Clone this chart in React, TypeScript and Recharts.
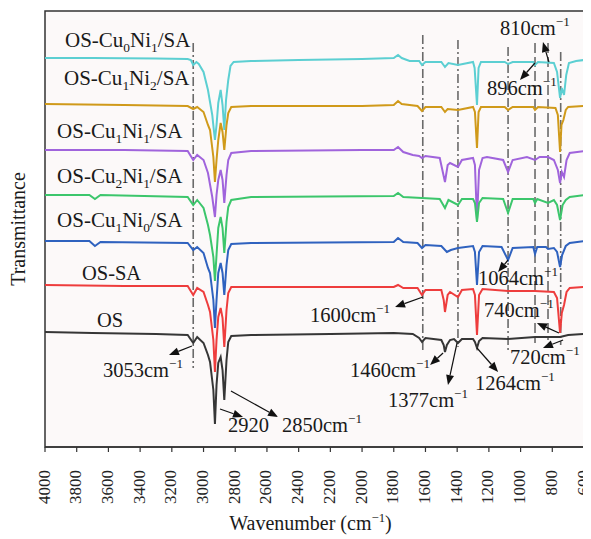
import React from "react";
import {
  LineChart,
  Line,
  XAxis,
  YAxis,
  ReferenceArea,
  ReferenceLine,
  ReferenceDot,
  Label,
} from "recharts";

// wavenumber (cm-1) vs transmittance (a.u., spectra stacked)
const wavenumberTicks = [4000, 3800, 3600, 3400, 3200, 3000, 2800, 2600, 2400, 2200, 2000, 1800, 1600, 1400, 1200, 1000, 800, 600];

const osCu0Ni1: [number, number][] = [
  [4000, 97.25], [3700, 97.25], [3300, 97.1], [3100, 97], [3080, 96.75], [3065, 95.5], [3045, 96.25], [3030, 95.75],
  [3000, 93.75], [2972, 89.25], [2945, 83], [2935, 79.25], [2928, 76.75], [2918, 80.5], [2907, 86], [2892, 89.25],
  [2880, 85.5], [2869, 79.25], [2858, 86.75], [2844, 91.75], [2830, 95.25], [2810, 96.25], [2700, 96.5], [2400, 96.75],
  [2000, 97], [1800, 97.25], [1773, 98], [1750, 97.25], [1700, 96.5], [1640, 96.5], [1622, 95.5], [1600, 96.25],
  [1500, 96.25], [1477, 95], [1455, 96], [1395, 95.5], [1300, 96.25], [1290, 94.75], [1275, 85.5], [1265, 94.75],
  [1250, 96.25], [1100, 96.25], [1079, 95.75], [1050, 96.25], [920, 96.25], [909, 95.5], [890, 96.25], [790, 96],
  [770, 93.75], [751, 87.25], [740, 89.75], [726, 88], [712, 93], [695, 96], [650, 96.5], [600, 96.75],
];

const osCu1Ni2: [number, number][] = [
  [4000, 85.75], [3500, 85.5], [3100, 85.25], [3065, 84.5], [3040, 85], [3000, 83.75], [2972, 80.5], [2959, 79.25],
  [2938, 72.5], [2928, 66.25], [2918, 71.75], [2907, 76.75], [2892, 81], [2880, 78.75], [2869, 74.25], [2855, 80.5],
  [2844, 83.5], [2825, 85], [2700, 85.25], [2000, 85.25], [1800, 85.5], [1773, 86.5], [1750, 85.75], [1650, 85.25],
  [1622, 84], [1600, 85], [1500, 85], [1477, 83.75], [1460, 84.5], [1395, 84.25], [1300, 85], [1288, 83.75],
  [1275, 74.75], [1265, 83.75], [1250, 85], [1100, 85], [1079, 84.25], [1050, 85], [920, 85], [909, 84.25],
  [890, 85], [780, 84.75], [765, 83], [751, 73.75], [742, 80.5], [730, 81.75], [715, 84.25], [700, 85], [600, 85.25],
];

const osCu1Ni1: [number, number][] = [
  [4000, 74.25], [3500, 74.25], [3100, 74], [3065, 71.75], [3040, 73], [3000, 71.75], [2972, 68.5], [2945, 62.5],
  [2928, 57.5], [2918, 63], [2907, 66.75], [2892, 69.25], [2880, 66.75], [2869, 61], [2855, 68], [2844, 71.75],
  [2825, 73.5], [2700, 74], [2000, 74.25], [1800, 74.25], [1773, 75], [1740, 73.75], [1680, 73], [1640, 72.75],
  [1622, 72.25], [1600, 72.75], [1510, 72.25], [1477, 66.25], [1460, 70.5], [1445, 71], [1395, 70], [1370, 71.75],
  [1300, 72.25], [1288, 70.5], [1275, 56.75], [1262, 69.25], [1240, 72.25], [1212, 72.5], [1110, 71.75], [1079, 68.75],
  [1050, 71.75], [960, 72.5], [909, 71.75], [880, 72.5], [827, 72.5], [790, 71.75], [765, 69.25], [751, 66],
  [740, 68.75], [726, 67.5], [710, 71.75], [690, 73.5], [600, 74],
];

const osCu2Ni1: [number, number][] = [
  [4000, 63], [3720, 63], [3685, 62], [3650, 63], [3100, 62.5], [3065, 60.5], [3040, 61.75], [3000, 59.75],
  [2972, 55.5], [2959, 53], [2938, 47.5], [2928, 41.5], [2918, 48], [2907, 54.75], [2892, 57.5], [2880, 54.75],
  [2869, 48.5], [2855, 56.25], [2844, 60], [2825, 61.75], [2700, 62.5], [1800, 62.75], [1773, 63.5], [1740, 62.5],
  [1622, 62.25], [1510, 62], [1477, 59.75], [1455, 61.75], [1395, 60.5], [1370, 62], [1300, 62], [1288, 61],
  [1275, 56.25], [1262, 61], [1240, 62.25], [1110, 62], [1079, 58.5], [1050, 62], [920, 62], [909, 61],
  [895, 62], [827, 61], [790, 61.75], [770, 60.5], [751, 56.75], [735, 60.5], [715, 61.75], [690, 62.5], [600, 63],
];

const osCu1Ni0: [number, number][] = [
  [4000, 51.5], [3720, 51.5], [3685, 50.25], [3650, 51.25], [3100, 51], [3065, 49.25], [3040, 50], [3000, 48.5],
  [2972, 44.75], [2959, 43.5], [2938, 36.75], [2928, 29.75], [2918, 36.75], [2907, 43.5], [2892, 46], [2880, 43.5],
  [2869, 38], [2855, 45.5], [2844, 49.25], [2825, 50.75], [2700, 51], [1800, 51.25], [1773, 52.25], [1740, 51.25],
  [1650, 51], [1622, 49.75], [1600, 50.5], [1500, 50.25], [1465, 48.75], [1440, 49.25], [1395, 49.75], [1300, 50.25],
  [1288, 48.75], [1275, 40.5], [1262, 48.75], [1240, 50.25], [1120, 50], [1079, 46.75], [1050, 49.75], [920, 50],
  [909, 48.25], [895, 50], [840, 50], [827, 49.5], [790, 49.75], [770, 48.75], [751, 45], [738, 48], [715, 50.25],
  [690, 51], [600, 51.5],
];

const osSA: [number, number][] = [
  [4000, 40.5], [3500, 40.25], [3100, 40.25], [3065, 38], [3040, 39.75], [3000, 38.75], [2972, 35.5], [2959, 33.75],
  [2938, 26.75], [2928, 18.75], [2918, 26.75], [2907, 32.5], [2892, 34.75], [2880, 32.25], [2869, 25], [2855, 34.25],
  [2844, 38.5], [2825, 40], [2700, 40], [1800, 40], [1773, 40.5], [1740, 39.75], [1650, 39.75], [1622, 38],
  [1600, 39.25], [1500, 39.25], [1485, 36.75], [1477, 33.75], [1460, 38], [1445, 38.75], [1395, 37.5], [1370, 39.25],
  [1300, 39.5], [1288, 38], [1275, 28], [1262, 38], [1240, 39.5], [1079, 39], [909, 39], [790, 38.75], [770, 37.25],
  [751, 28.5], [740, 33.5], [726, 35.5], [710, 38.75], [690, 39.75], [600, 40],
];

const osPure: [number, number][] = [
  [4000, 28.75], [3700, 28.5], [3300, 28.25], [3100, 28], [3065, 26], [3040, 27.5], [3000, 26], [2972, 23],
  [2959, 21.25], [2938, 14.25], [2928, 5.75], [2918, 15.5], [2907, 21], [2892, 22.5], [2880, 19.25], [2869, 11.75],
  [2855, 21.75], [2844, 26.25], [2825, 27.75], [2700, 28], [2200, 28.25], [1800, 28.5], [1680, 28.25], [1640, 27.25],
  [1622, 26.25], [1600, 27.25], [1500, 26.75], [1485, 25.5], [1477, 23.75], [1465, 25.5], [1445, 26.75], [1420, 27],
  [1395, 26], [1370, 27], [1300, 27], [1288, 26.25], [1275, 24.75], [1262, 26.5], [1240, 27.25], [1079, 27],
  [909, 27.5], [751, 27.5], [700, 28], [600, 28.25],
];

const seriesNames = ["OS-Cu0Ni1/SA", "OS-Cu1Ni2/SA", "OS-Cu1Ni1/SA", "OS-Cu2Ni1/SA", "OS-Cu1Ni0/SA", "OS-SA", "OS"];
const seriesData = [osCu0Ni1, osCu1Ni2, osCu1Ni1, osCu2Ni1, osCu1Ni0, osSA, osPure];
const seriesColors = ["#5ccfd2", "#d09a1a", "#a064dc", "#3cc66c", "#2f62bf", "#ee3d3d", "#363636"];

// marker lines [wavenumber, top, bottom]
const dashDotLines: [number, number, number][] = [
  [3065, 101, 19.75], [1617, 103, 23.5], [1395, 101.75, 25], [1079, 100, 23.5], [747, 98.75, 25.5],
];
const dashedLines: [number, number, number][] = [[909, 101, 26], [827, 101, 26.75]];

// arrows [from w, from v, to w, to v]
const arrows: [number, number, number, number][] = [
  [3073, 25.25, 3218, 23], [2896, 9.5, 2751, 7.5], [2827, 14, 2530, 7.5], [1616, 37.5, 1792, 35],
  [1489, 23.5, 1571, 20.5], [1401, 26, 1458, 15.5], [1275, 24.75, 1142, 18.75], [1079, 46.75, 1142, 43.75],
  [758, 28.5, 897, 31], [732, 26.75, 859, 24.75], [821, 96.25, 859, 101.25], [909, 96, 1004, 91.75],
];

type Part = [string, "" | "sub" | "sup"];
const sample = (cu: string, ni: string): Part[] => [["OS-Cu", ""], [cu, "sub"], ["Ni", ""], [ni, "sub"], ["/SA", ""]];
const cm = (n: string): Part[] => [[n + "cm", ""], ["\u22121", "sup"]];

const textLabels: { w: number; v: number; parts: Part[] }[] = [
  { w: 3874, v: 100, parts: sample("0", "1") },
  { w: 3880, v: 90.5, parts: sample("1", "2") },
  { w: 3924, v: 77.25, parts: sample("1", "1") },
  { w: 3924, v: 66, parts: sample("2", "1") },
  { w: 3924, v: 55, parts: sample("1", "0") },
  { w: 3767, v: 41.75, parts: [["OS-SA", ""]] },
  { w: 3672, v: 30, parts: [["OS", ""]] },
  { w: 3634, v: 17.5, parts: cm("3053") },
  { w: 2846, v: 3.75, parts: [["2920", ""]] },
  { w: 2505, v: 3.75, parts: cm("2850") },
  { w: 2328, v: 31.25, parts: cm("1600") },
  { w: 2076, v: 17.5, parts: cm("1460") },
  { w: 1836, v: 10, parts: cm("1377") },
  { w: 1288, v: 14.25, parts: cm("1264") },
  { w: 1269, v: 40.5, parts: cm("1064") },
  { w: 1231, v: 32.5, parts: cm("740") },
  { w: 1067, v: 20.75, parts: cm("720") },
  { w: 1130, v: 103, parts: cm("810") },
  { w: 1212, v: 88, parts: cm("896") },
];

const SERIF = "Liberation Serif, DejaVu Serif, serif";

function RichText({ x, y, parts, size, anchor = "start" }: { x: number; y: number; parts: Part[]; size: number; anchor?: string }) {
  let shift = 0;
  return (
    <text x={x} y={y} textAnchor={anchor} style={{ fontFamily: SERIF, fontSize: size }} fill="#1a1a1a">
      {parts.map(([t, k], i) => {
        const target = k === "sub" ? size * 0.22 : k === "sup" ? -size * 0.42 : 0;
        const dy = target - shift;
        shift = target;
        return (
          <tspan key={i} dy={dy} style={{ fontSize: k ? size * 0.64 : size }}>
            {t}
          </tspan>
        );
      })}
    </text>
  );
}

function Arrow(p: any) {
  const { x1, y1, x2, y2 } = p;
  const ang = Math.atan2(y2 - y1, x2 - x1);
  const len = 10;
  const half = 4;
  const bx = x2 - len * Math.cos(ang);
  const by = y2 - len * Math.sin(ang);
  const px = -Math.sin(ang) * half;
  const py = Math.cos(ang) * half;
  return (
    <g>
      <line x1={x1} y1={y1} x2={bx} y2={by} stroke="#111" strokeWidth={1.2} />
      <polygon points={`${x2},${y2} ${bx + px},${by + py} ${bx - px},${by - py}`} fill="#111" />
    </g>
  );
}

function WaveTick(p: any) {
  const { x, y, payload } = p;
  const tx = x + 4.5;
  const ty = y + 16;
  return (
    <text x={tx} y={ty} transform={`rotate(-90, ${tx}, ${ty})`} textAnchor="end" style={{ fontFamily: SERIF, fontSize: 17 }} fill="#222">
      {payload.value}
    </text>
  );
}

export default function App() {
  return (
    <div style={{ width: 583, height: 531 }}>
      <LineChart width={583} height={531} margin={{ top: 3, right: 7, left: 0, bottom: 32 }}>
        <XAxis
          dataKey="w"
          type="number"
          domain={[600, 4000]}
          reversed
          ticks={wavenumberTicks}
          interval={0}
          height={60}
          tick={<WaveTick />}
          tickSize={5}
          tickLine={{ stroke: "#333", strokeWidth: 1.2 }}
          axisLine={{ stroke: "#333", strokeWidth: 1.5 }}
          allowDataOverflow
        >
          <Label
            content={(props: any) => {
              const vb = props.viewBox;
              return (
                <RichText
                  x={vb.x + vb.width / 2 - 4}
                  y={vb.y + 83}
                  size={20}
                  anchor="middle"
                  parts={[["Wavenumber (cm", ""], ["\u22121", "sup"], [")", ""]]}
                />
              );
            }}
          />
        </XAxis>
        <YAxis type="number" domain={[0, 109]} width={37} tick={false} tickLine={false} axisLine={false} allowDataOverflow>
          <Label
            content={(props: any) => {
              const vb = props.viewBox;
              const cx = 17;
              const cy = vb.y + vb.height / 2;
              return (
                <text x={cx} y={cy} transform={`rotate(-90, ${cx}, ${cy})`} textAnchor="middle" style={{ fontFamily: SERIF, fontSize: 20 }} fill="#1a1a1a">
                  Transmittance
                </text>
              );
            }}
          />
        </YAxis>
        <ReferenceArea x1={4000} x2={600} y1={0} y2={109} fill="#fcf9f9" fillOpacity={1} stroke="#333" strokeWidth={1.5} />
        {dashDotLines.map(([w, top, bottom]) => (
          <ReferenceLine
            key={"dd" + w}
            segment={[{ x: w, y: top }, { x: w, y: bottom }]}
            stroke="#6a6a6a"
            strokeWidth={1.6}
            strokeDasharray="9 3 2 3"
          />
        ))}
        {dashedLines.map(([w, top, bottom]) => (
          <ReferenceLine
            key={"d" + w}
            segment={[{ x: w, y: top }, { x: w, y: bottom }]}
            stroke="#6a6a6a"
            strokeWidth={1.6}
            strokeDasharray="10 4"
          />
        ))}
        {seriesData.map((s, i) => (
          <Line
            key={seriesNames[i]}
            name={seriesNames[i]}
            data={s.map(([w, v]) => ({ w, v }))}
            dataKey="v"
            stroke={seriesColors[i]}
            strokeWidth={2}
            dot={false}
            type="linear"
            isAnimationActive={false}
          />
        ))}
        {arrows.map(([w1, v1, w2, v2], i) => (
          <ReferenceLine key={"a" + i} segment={[{ x: w1, y: v1 }, { x: w2, y: v2 }]} shape={(p: any) => <Arrow {...p} />} />
        ))}
        {textLabels.map((t, i) => (
          <ReferenceDot
            key={"t" + i}
            x={t.w}
            y={t.v}
            r={1}
            shape={(p: any) => <RichText x={p.cx} y={p.cy} parts={t.parts} size={t.parts.length > 2 ? 21 : 20.5} />}
          />
        ))}
      </LineChart>
    </div>
  );
}
